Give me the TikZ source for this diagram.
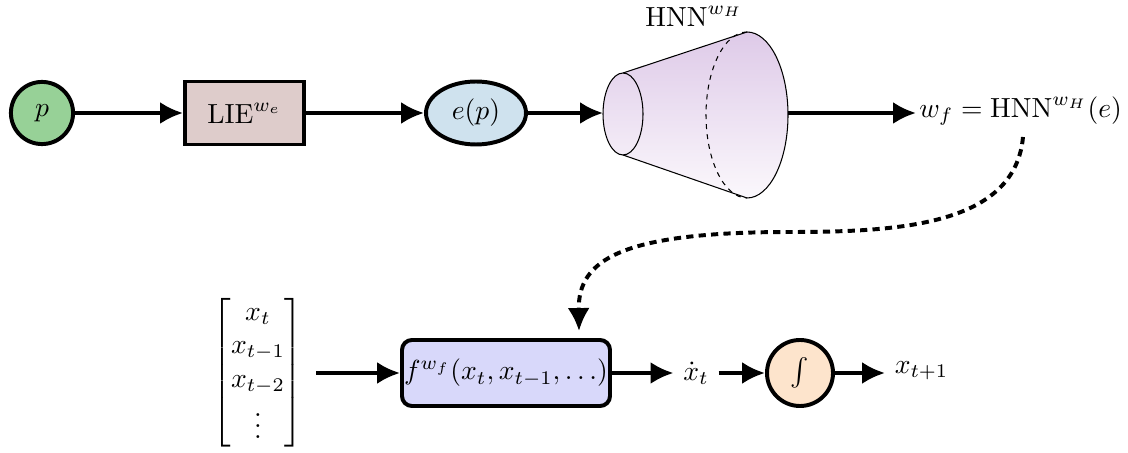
\documentclass[tikz,border=0pt]{standalone}
\usepackage{amsmath}
\usetikzlibrary{arrows.meta,shapes.geometric}
\definecolor{cgreen}{RGB}{151,209,151}
\definecolor{cbrown}{RGB}{222,204,203}
\definecolor{cblue}{RGB}{207,226,238}
\definecolor{clav}{RGB}{216,216,250}
\definecolor{corange}{RGB}{253,228,204}
\definecolor{ctop}{RGB}{222,202,232}
\definecolor{cbot}{RGB}{251,248,252}
\begin{document}
\begin{tikzpicture}[x=0.362pt,y=-0.362pt,
  box/.style={draw, line width=1.43pt, inner sep=0pt},
  flow/.style={line width=1.43pt, -{Latex[length=8.3pt,width=8pt]}},
  cone/.style={line width=0.38pt},
  dotflow/.style={line width=1.43pt, dash pattern=on 2.6pt off 1.9pt, -{Latex[length=8.3pt,width=8pt]}}]
\useasboundingbox (0,0) rectangle (1128,453);
% top row
\node[box, circle, fill=cgreen, minimum size=22.5pt] (p) at (42,113) {$p$};
\node[box, rectangle, fill=cbrown, minimum width=43.1pt, minimum height=22.8pt] (lie) at (244.5,113) {$\mathrm{LIE}^{w_e}$};
\node[box, ellipse, fill=cblue, minimum width=36.2pt, minimum height=22.8pt] (ep) at (476,113) {$e(p)$};
% cone
\shade[top color=ctop, bottom color=cbot] (623,73) -- (747,32) arc[start angle=-90, end angle=90, x radius=41, y radius=83] -- (623,155) arc[start angle=90, end angle=270, x radius=20, y radius=41] -- cycle;
\draw[cone] (623,73) -- (747,32) arc[start angle=-90, end angle=90, x radius=41, y radius=83] -- (623,155);
\draw[cone] (623,114) ellipse [x radius=20, y radius=41];
\draw[cone, dash pattern=on 1.8pt off 1.8pt] (747,32) arc[start angle=-90, end angle=-270, x radius=41, y radius=83];
\coordinate (coneL) at (603,113);
\coordinate (coneR) at (788,113);
\node (hnn) at (694,16) {$\mathrm{HNN}^{w_H}$};
\node[inner sep=1pt, anchor=west] (wf) at (916,111) {$w_f = \mathrm{HNN}^{w_H}(e)$};
\draw[flow] (p) -- (lie);
\draw[flow] (lie) -- (ep);
\draw[flow] (ep) -- (coneL);
\draw[flow] (coneR) -- (wf.west |- coneR);
% bottom row
\node[inner xsep=4.5pt] (vec) at (258,373) {$\begin{bmatrix} x_t\\ x_{t-1}\\ x_{t-2}\\ \vdots\end{bmatrix}$};
\node[box, rectangle, rounded corners=3.6pt, fill=clav, minimum width=75.3pt, minimum height=23.9pt] (f) at (506,373) {$f^{w_f}(x_t, x_{t-1}, \ldots)$};
\node (xd) at (696,373) {$\dot{x}_t$};
\node[box, circle, fill=corange, minimum size=23.9pt] (int) at (800,373) {$\int$};
\node[anchor=west] (xn) at (885,371) {$x_{t+1}$};
\draw[flow] (vec.east |- f) -- (f);
\draw[flow] (f) -- (xd);
\draw[flow] (xd) -- (int);
\draw[flow] (int) -- (xn.west |- int);
% dotted connector
\coordinate (ds) at (1023,137);
\coordinate (de) at (579,331);
\draw[dotflow] (ds) .. controls (1015,225) and (900,232) .. (790,232) .. controls (620,232) and (578,260) .. (de);
\end{tikzpicture}
\end{document}
